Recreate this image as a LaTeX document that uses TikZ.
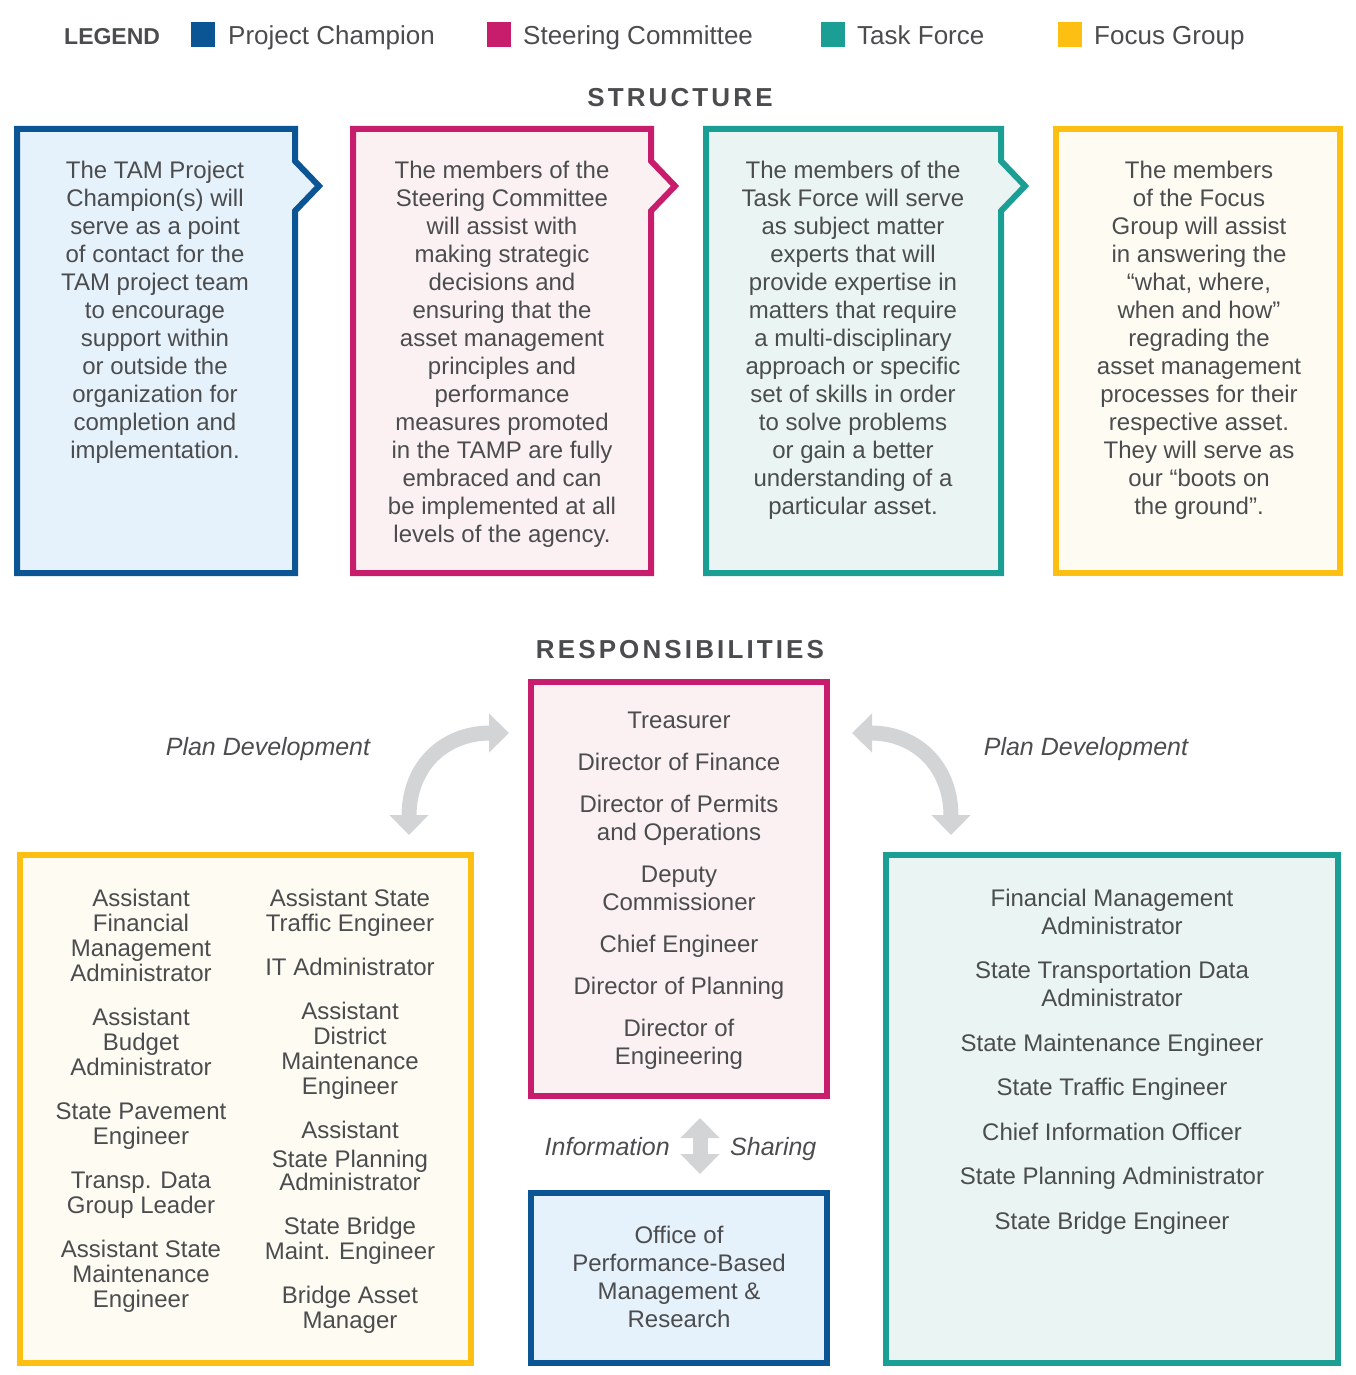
\documentclass[tikz,border=0pt]{standalone}
\usepackage{fontspec}
\setmainfont{Liberation Sans}
\newfontfamily\trackedfont[LetterSpace=12]{Liberation Sans}
\usepackage{tikz}
\usetikzlibrary{arrows.meta, positioning}
\usepackage{xcolor}
\definecolor{champblue}{HTML}{0B5595}
\definecolor{steermag}{HTML}{C81C6C}
\definecolor{taskteal}{HTML}{1B9E93}
\definecolor{focusyellow}{HTML}{FDBF12}
\definecolor{champfill}{HTML}{E6F2FB}
\definecolor{steerfill}{HTML}{FBF1F3}
\definecolor{taskfill}{HTML}{EAF4F2}
\definecolor{focusfill}{HTML}{FEFBF3}
\definecolor{txtgrey}{HTML}{4B4C4E}
\definecolor{arrowgrey}{HTML}{D3D4D6}

\begin{document}
\begin{tikzpicture}[x=1pt, y=-1pt,
    every node/.style={inner sep=0pt, text=txtgrey},
    framebox/.style={line width=6pt, line join=miter},
    boxtext/.style={align=center, font=\fontsize{24}{28}\selectfont},
    listtext/.style={align=center, font=\fontsize{24}{25}\selectfont},
    legendtext/.style={anchor=base west, font=\fontsize{26}{30}\selectfont},
    headtext/.style={anchor=base, font=\fontsize{26}{30}\selectfont\trackedfont\bfseries},
    sidenote/.style={font=\fontsize{25}{30}\selectfont\itshape},
    grayarrow/.style={draw=arrowgrey, line width=15pt,
        {Triangle[width=38pt,length=20pt]}-{Triangle[width=38pt,length=20pt]}}]
    \useasboundingbox (0,0) rectangle (1356,1375);

    % legend
    \node[anchor=base west, font=\fontsize{23}{28}\selectfont\bfseries] (legend) at (64,45) {LEGEND};
    \fill[champblue] (191,22) rectangle (215,47);
    \node[legendtext] (legchamp) at (228,45) {Project Champion};
    \fill[steermag] (487,22) rectangle (511,47);
    \node[legendtext] (legsteer) at (523,45) {Steering Committee};
    \fill[taskteal] (821,22) rectangle (845,47);
    \node[legendtext] (legtask) at (857,45) {Task Force};
    \fill[focusyellow] (1058,22) rectangle (1082,47);
    \node[legendtext] (legfocus) at (1094,45) {Focus Group};

    % structure
    \node[headtext] (structure) at (680,107) {STRUCTURE};

    \draw[framebox, draw=champblue, fill=champfill] (17,129) -- (295,129) -- (295,161) -- (319,186) -- (295,211) -- (295,573) -- (17,573) -- cycle;
    \draw[framebox, draw=steermag, fill=steerfill] (353,129) -- (651,129) -- (651,161) -- (675,186) -- (651,211) -- (651,573) -- (353,573) -- cycle;
    \draw[framebox, draw=taskteal, fill=taskfill] (706,129) -- (1001,129) -- (1001,161) -- (1025,186) -- (1001,211) -- (1001,573) -- (706,573) -- cycle;
    \draw[framebox, draw=focusyellow, fill=focusfill] (1056,129) rectangle (1340,573);

    \node[boxtext, anchor=north] (champtext) at (155,161) {The TAM Project\\Champion(s) will\\serve as a point\\of contact for the\\TAM project team\\to encourage\\support within\\or outside the\\organization for\\completion and\\implementation.};
    \node[boxtext, anchor=north] (steertext) at (502,161) {The members of the\\Steering Committee\\will assist with\\making strategic\\decisions and\\ensuring that the\\asset management\\principles and\\performance\\measures promoted\\in the TAMP are fully\\embraced and can\\be implemented at all\\levels of the agency.};
    \node[boxtext, anchor=north] (tasktext) at (853,161) {The members of the\\Task Force will serve\\as subject matter\\experts that will\\provide expertise in\\matters that require\\a multi-disciplinary\\approach or specific\\set of skills in order\\to solve problems\\or gain a better\\understanding of a\\particular asset.};
    \node[boxtext, anchor=north] (focustext) at (1199,161) {The members\\of the Focus\\Group will assist\\in answering the\\“what, where,\\when and how”\\regrading the\\asset management\\processes for their\\respective asset.\\They will serve as\\our “boots on\\the ground”.};

    % responsibilities
    \node[headtext] (respons) at (680,658) {RESPONSIBILITIES};

    \draw[framebox, draw=steermag, fill=steerfill] (531,682) rectangle (827,1096);
    \draw[framebox, draw=champblue, fill=champfill] (531,1193) rectangle (827,1363);
    \draw[framebox, draw=focusyellow, fill=focusfill] (20,855) rectangle (471,1363);
    \draw[framebox, draw=taskteal, fill=taskfill] (886,855) rectangle (1338,1363);

    \node[boxtext] (steerlist) at (679,891) {Treasurer\\[14pt]Director of Finance\\[14pt]Director of Permits\\and Operations\\[14pt]Deputy\\Commissioner\\[14pt]Chief Engineer\\[14pt]Director of Planning\\[14pt]Director of\\Engineering};
    \node[boxtext] (office) at (679,1277) {Office of\\Performance-Based\\Management \&\\Research};
    \node[boxtext] (tasklist) at (1112,1061.5) {Financial Management\\Administrator\\[16.5pt]State Transportation Data\\Administrator\\[16.5pt]State Maintenance Engineer\\[16.5pt]State Traffic Engineer\\[16.5pt]Chief Information Officer\\[16.5pt]State Planning Administrator\\[16.5pt]State Bridge Engineer};
    \node[listtext] (focusleft) at (141,1100.5) {Assistant\\Financial\\Management\\Administrator\\[19pt]Assistant\\Budget\\Administrator\\[19pt]State Pavement\\Engineer\\[19pt]Transp. Data\\Group Leader\\[19pt]Assistant State\\Maintenance\\Engineer};
    \node[listtext] (focusright) at (350,1111) {Assistant State\\Traffic Engineer\\[19pt]IT Administrator\\[19pt]Assistant\\District\\Maintenance\\Engineer\\[19pt]Assistant\\[4pt]State Planning\\[-2pt]Administrator\\[19pt]State Bridge\\Maint. Engineer\\[19pt]Bridge Asset\\Manager};

    \node[sidenote, anchor=base] (planleft) at (268,755) {Plan Development};
    \node[sidenote, anchor=base] (planright) at (1086,755) {Plan Development};
    \node[sidenote, anchor=base east] (info) at (670,1155) {Information};
    \node[sidenote, anchor=base west] (sharing) at (730,1155) {Sharing};

    \coordinate (leftdown) at (409,835);
    \coordinate (leftup) at (509,733);
    \coordinate (rightup) at (852,733);
    \coordinate (rightdown) at (951,835);
    \coordinate (infotop) at (700,1118);
    \coordinate (infobot) at (700,1174);

    \draw[grayarrow] (leftdown) .. controls (409,765) and (445,733) .. (leftup);
    \draw[grayarrow] (rightup) .. controls (915,733) and (951,765) .. (rightdown);
    \draw[grayarrow] (infotop) -- (infobot);
\end{tikzpicture}
\end{document}
